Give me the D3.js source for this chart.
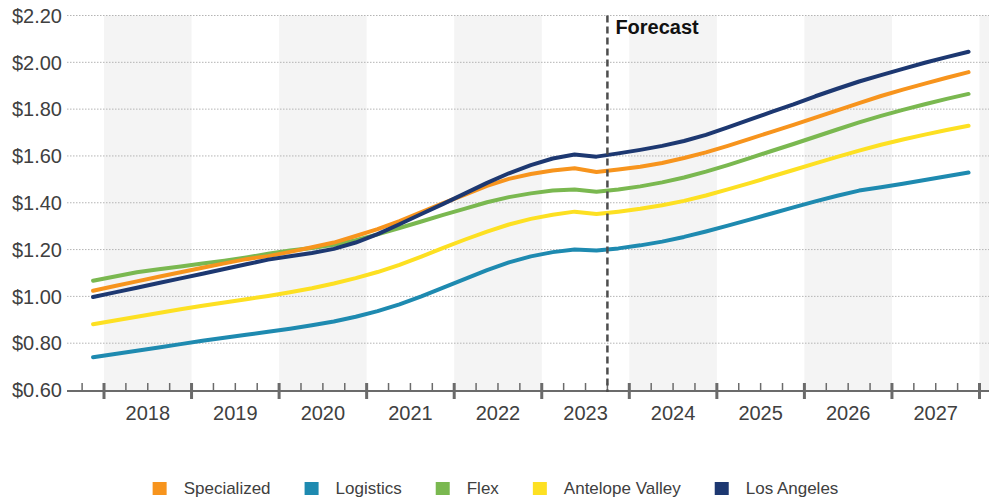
<!DOCTYPE html>
<html>
<head>
<meta charset="utf-8">
<script src="https://cdn.jsdelivr.net/npm/d3@7"></script>
<style>
  html, body { margin: 0; padding: 0; background: #fff; }
  svg { display: block; font-family: "Liberation Sans", Arial, sans-serif; }
</style>
</head>
<body>
<svg id="chart" width="989" height="499"></svg>
<script>
// Quarterly asking rents ($/SF/month), 2017 Q4 through 2027 Q4
const quarters = [
  "2017Q4",
  "2018Q1","2018Q2","2018Q3","2018Q4",
  "2019Q1","2019Q2","2019Q3","2019Q4",
  "2020Q1","2020Q2","2020Q3","2020Q4",
  "2021Q1","2021Q2","2021Q3","2021Q4",
  "2022Q1","2022Q2","2022Q3","2022Q4",
  "2023Q1","2023Q2","2023Q3","2023Q4",
  "2024Q1","2024Q2","2024Q3","2024Q4",
  "2025Q1","2025Q2","2025Q3","2025Q4",
  "2026Q1","2026Q2","2026Q3","2026Q4",
  "2027Q1","2027Q2","2027Q3","2027Q4"
];
const years = [2018, 2019, 2020, 2021, 2022, 2023, 2024, 2025, 2026, 2027];
const yTicks = [0.60, 0.80, 1.00, 1.20, 1.40, 1.60, 1.80, 2.00, 2.20];
const forecastStart = "2023Q4";

const specialized = [1.024,1.044,1.064,1.084,1.103,1.122,1.141,1.159,1.172,1.190,1.210,1.230,1.258,1.287,1.322,1.360,1.398,1.435,1.472,1.502,1.523,1.538,1.547,1.531,1.542,1.554,1.570,1.591,1.615,1.643,1.673,1.703,1.733,1.764,1.795,1.826,1.856,1.883,1.909,1.934,1.958];
const logistics = [0.740,0.754,0.768,0.782,0.796,0.810,0.823,0.836,0.849,0.862,0.877,0.893,0.913,0.937,0.966,1.000,1.037,1.075,1.112,1.145,1.171,1.189,1.200,1.196,1.205,1.218,1.234,1.254,1.277,1.302,1.328,1.354,1.380,1.406,1.430,1.452,1.466,1.481,1.497,1.513,1.529];
const flex = [1.067,1.085,1.103,1.116,1.128,1.140,1.152,1.166,1.182,1.196,1.207,1.220,1.240,1.265,1.292,1.320,1.348,1.375,1.402,1.424,1.440,1.452,1.457,1.447,1.457,1.470,1.487,1.508,1.533,1.561,1.591,1.621,1.651,1.682,1.713,1.743,1.771,1.797,1.821,1.844,1.865];
const antelopeValley = [0.881,0.897,0.913,0.929,0.945,0.960,0.974,0.988,1.002,1.018,1.035,1.055,1.078,1.104,1.135,1.170,1.207,1.243,1.277,1.307,1.331,1.349,1.362,1.352,1.362,1.374,1.389,1.408,1.431,1.457,1.484,1.512,1.540,1.568,1.596,1.623,1.648,1.670,1.691,1.711,1.729];
const losAngeles = [0.997,1.017,1.037,1.057,1.077,1.097,1.117,1.137,1.157,1.171,1.185,1.203,1.230,1.266,1.308,1.352,1.395,1.440,1.485,1.526,1.561,1.589,1.606,1.597,1.611,1.626,1.643,1.664,1.690,1.722,1.755,1.788,1.820,1.855,1.887,1.918,1.945,1.972,1.998,2.022,2.045];

const seriesNames = ["Specialized", "Logistics", "Flex", "Antelope Valley", "Los Angeles"];
const seriesColors = ["#F7941D", "#1E8AB0", "#7AB850", "#FDE022", "#1D3871"];
const seriesValues = [specialized, logistics, flex, antelopeValley, losAngeles];
// drawing order: later lines sit on top
const drawOrder = [1, 3, 2, 0, 4];

// ---- layout ----
const W = 989, H = 499;
const plotLeft = 67, plotRight = 989, plotTop = 15.5, plotBottom = 390;
const svg = d3.select("#chart");

// quarter key -> fractional year at the middle of that quarter
const qTime = k => +k.slice(0, 4) + (+k.slice(5) - 0.5) / 4;

const x = d3.scaleLinear().domain([2018, 2028]).range([104, 979.5]);
const y = d3.scaleLinear().domain([0.6, 2.2]).range([plotBottom, plotTop]);

// alternating shaded year columns
const shadeYears = [2018, 2020, 2022, 2024, 2026, 2028];
svg.append("g").selectAll("rect").data(shadeYears).join("rect")
  .attr("x", d => x(d))
  .attr("y", plotTop)
  .attr("width", d => Math.min(x(d + 1), plotRight) - x(d))
  .attr("height", plotBottom - plotTop)
  .attr("fill", "#f4f4f4");

// dotted horizontal gridlines
svg.append("g").selectAll("line").data(yTicks.filter(v => v > 0.6)).join("line")
  .attr("x1", plotLeft).attr("x2", plotRight)
  .attr("y1", d => y(d)).attr("y2", d => y(d))
  .attr("stroke", "#b4b4b4").attr("stroke-width", 1)
  .attr("stroke-dasharray", "1.5,1.5");

// y axis labels
svg.append("g").selectAll("text").data(yTicks).join("text")
  .attr("x", 62).attr("y", d => y(d)).attr("dy", "0.36em")
  .attr("text-anchor", "end")
  .attr("font-size", 20).attr("fill", "#404040")
  .text(d => "$" + d3.format(".2f")(d));

// x axis baseline with quarterly and yearly ticks
const axisY = 391;
const axisG = svg.append("g");
axisG.append("line")
  .attr("x1", plotLeft).attr("x2", plotRight)
  .attr("y1", axisY).attr("y2", axisY)
  .attr("stroke", "#6b6b6b").attr("stroke-width", 2);

const tickTimes = d3.range(2017.75, 2028.3, 0.25).filter(t => x(t) >= plotLeft && x(t) <= plotRight);
axisG.selectAll("line.tick").data(tickTimes).join("line")
  .attr("class", "tick")
  .attr("x1", d => x(d)).attr("x2", d => x(d))
  .attr("y1", 383)
  .attr("y2", d => Math.abs(d - Math.round(d)) < 1e-6 ? 399 : axisY)
  .attr("stroke", "#6b6b6b")
  .attr("stroke-width", d => Math.abs(d - Math.round(d)) < 1e-6 ? 3 : 1.5);

axisG.selectAll("text").data(years).join("text")
  .attr("x", d => x(d + 0.5)).attr("y", 420)
  .attr("text-anchor", "middle")
  .attr("font-size", 20).attr("fill", "#404040")
  .text(d => d);

// series lines
const line = d3.line()
  .x((d, i) => x(qTime(quarters[i])))
  .y(d => y(d));

svg.append("g").selectAll("path").data(drawOrder).join("path")
  .attr("d", k => line(seriesValues[k]))
  .attr("fill", "none")
  .attr("stroke", k => seriesColors[k])
  .attr("stroke-width", 4)
  .attr("stroke-linecap", "round")
  .attr("stroke-linejoin", "round");

// forecast divider
const fx = x(qTime(forecastStart) - 0.125);
svg.append("line")
  .attr("x1", fx).attr("x2", fx)
  .attr("y1", plotTop).attr("y2", axisY + 1)
  .attr("stroke", "#4d4d4d").attr("stroke-width", 2.5)
  .attr("stroke-dasharray", "7,4");
svg.append("text")
  .attr("x", fx + 8).attr("y", 34)
  .attr("font-size", 20).attr("font-weight", "bold").attr("fill", "#111")
  .text("Forecast");

// legend, centred under the chart
const legend = svg.append("g");
const items = legend.selectAll("g").data(seriesNames).join("g");
items.append("rect")
  .attr("y", 482).attr("width", 14).attr("height", 13)
  .attr("fill", (d, i) => seriesColors[i]);
items.append("text")
  .attr("y", 494).attr("x", 31)
  .attr("font-size", 17).attr("fill", "#404040")
  .text(d => d);
let cursor = 0;
const offsets = [];
items.each(function () {
  const w = d3.select(this).select("text").node().getComputedTextLength();
  offsets.push(cursor);
  cursor += 31 + w + 34;
});
const total = cursor - 34;
const start = (W - total) / 2 + 1;
items.attr("transform", (d, i) => `translate(${start + offsets[i]},0)`);
</script>
</body>
</html>
